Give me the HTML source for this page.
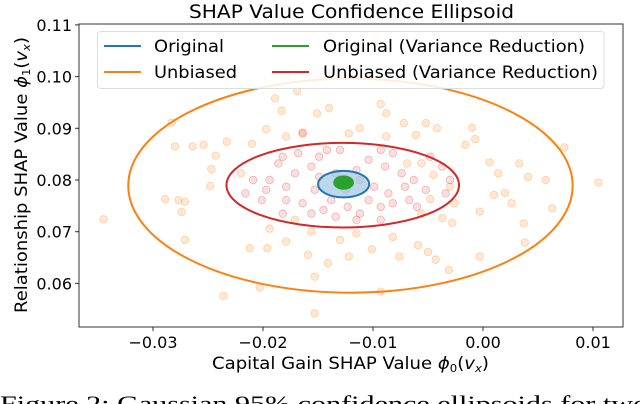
<!DOCTYPE html>
<html><head><meta charset="utf-8"><style>
html,body{margin:0;padding:0;background:#fff;width:640px;height:404px;overflow:hidden}
text{font-family:"DejaVu Sans","Liberation Sans",sans-serif}
</style></head><body>
<svg id="chart" width="640" height="404" viewBox="0 0 640 404" xmlns="http://www.w3.org/2000/svg">
<text x="189" y="18" font-size="19" textLength="325" lengthAdjust="spacingAndGlyphs">SHAP Value Confidence Ellipsoid</text>
<g id="points"></g>
<g id="ellipses"></g>
<rect x="79" y="24" width="544" height="303" fill="none" stroke="#333" stroke-width="1"/>
<g id="xticks"></g>
<g id="yticks"></g>
<text x="212" y="369" font-size="17" textLength="277" lengthAdjust="spacingAndGlyphs">Capital Gain SHAP Value <tspan font-style="italic">ϕ</tspan><tspan font-size="11" dy="3">0</tspan><tspan dy="-3">(</tspan><tspan font-style="italic">v</tspan><tspan font-size="11" font-style="italic" dy="3">x</tspan><tspan dy="-3">)</tspan></text>
<text transform="translate(27,313) rotate(-90)" font-size="17" textLength="276" lengthAdjust="spacingAndGlyphs">Relationship SHAP Value <tspan font-style="italic">ϕ</tspan><tspan font-size="11" dy="3">1</tspan><tspan dy="-3">(</tspan><tspan font-style="italic">v</tspan><tspan font-size="11" font-style="italic" dy="3">x</tspan><tspan dy="-3">)</tspan></text>
<g>
<rect x="97.5" y="31.5" width="506.5" height="57" rx="3" fill="#fff" fill-opacity="0.85" stroke="#ddd"/>
<g><line x1="104" y1="46" x2="141" y2="46" stroke="#1f77b4" stroke-width="2"/><text x="154" y="52" font-size="17" textLength="70" lengthAdjust="spacingAndGlyphs">Original</text></g>
<g><line x1="104" y1="72" x2="141" y2="72" stroke="#ff7f0e" stroke-width="2"/><text x="154" y="78" font-size="17" textLength="83" lengthAdjust="spacingAndGlyphs">Unbiased</text></g>
<g><line x1="272" y1="46" x2="309" y2="46" stroke="#2ca02c" stroke-width="2"/><text x="323" y="52" font-size="17" textLength="262" lengthAdjust="spacingAndGlyphs">Original (Variance Reduction)</text></g>
<g><line x1="272" y1="72" x2="309" y2="72" stroke="#d62728" stroke-width="2"/><text x="323" y="78" font-size="17" textLength="275" lengthAdjust="spacingAndGlyphs">Unbiased (Variance Reduction)</text></g>
</g>
<text x="0" y="411" font-size="22" textLength="648" lengthAdjust="spacingAndGlyphs" style="font-family:'Liberation Serif',serif">Figure 2: Gaussian 95% confidence ellipsoids for two</text>
</svg>
<script>
const xTicks=[-0.03,-0.02,-0.01,0.00,0.01];
const xTickLabels=["−0.03","−0.02","−0.01","0.00","0.01"];
const yTicks=[0.06,0.07,0.08,0.09,0.10,0.11];
const yTickLabels=["0.06","0.07","0.08","0.09","0.10","0.11"];
const orangeX=[-0.0345,-0.0283,-0.028,-0.0264,-0.0254,-0.0289,-0.0277,-0.0271,-0.0274,-0.0271,-0.0236,-0.0203,-0.0212,-0.0196,-0.0194,-0.0179,-0.0153,-0.0153,-0.0159,-0.0141,-0.0122,-0.0093,-0.0101,-0.0076,-0.0059,-0.005,-0.0043,-0.0031,-0.0003,0.0037,0.0038,0.0063,0.0057,0.0074,0.0105,0.0041,0.0033,0.002,0.0006,0.0014,-0.001,-0.0007,-0.0016,-0.0042,-0.0052,-0.0061,-0.0072,-0.0093,-0.0088,-0.0112,-0.0122,-0.014,-0.0151,-0.0183,-0.0189,-0.0169,-0.0197,-0.0233,-0.0243,-0.0247,-0.0248,-0.022,-0.021,-0.0179,-0.0164,-0.0088,-0.0069,-0.0056,-0.0045,-0.003,-0.0026,-0.0048,-0.0037,-0.0028,-0.0056,-0.0082,-0.0115,-0.013,-0.0156,-0.0171,0.001,0.0026,-0.0003,-0.0097,-0.0179];
const orangeY=[0.0724,0.0911,0.0865,0.0865,0.0868,0.0763,0.0761,0.0758,0.0738,0.0684,0.0576,0.0592,0.0668,0.0668,0.0706,0.0681,0.0613,0.0542,0.0655,0.0639,0.0652,0.0584,0.0666,0.0652,0.0674,0.0661,0.0646,0.0626,0.0652,0.0716,0.0679,0.0745,0.08,0.0863,0.0795,0.0806,0.0832,0.0775,0.0834,0.0813,0.0901,0.0879,0.0868,0.09,0.091,0.0887,0.091,0.0947,0.0929,0.09,0.089,0.0939,0.0929,0.0934,0.0958,0.0972,0.0898,0.0874,0.0847,0.0821,0.0788,0.0813,0.087,0.0884,0.0892,0.0884,0.0832,0.0832,0.081,0.0787,0.0755,0.0763,0.0726,0.0717,0.0735,0.069,0.0697,0.0684,0.07,0.0723,0.0771,0.0755,0.0739,0.1077,0.1];
const redX=[-0.0186,-0.0182,-0.0164,-0.0194,-0.0201,-0.0179,-0.0171,-0.0156,-0.0149,-0.0142,-0.013,-0.0153,-0.0145,-0.0134,-0.0123,-0.0112,-0.0104,-0.0093,-0.0082,-0.0071,-0.0063,-0.0052,-0.0037,-0.0048,-0.0082,-0.0093,-0.0104,-0.0089,-0.0112,-0.0115,-0.0164,-0.0179,-0.0197,-0.0209,-0.0216,-0.0168,-0.0138,-0.0125,-0.0099,-0.0086,-0.0067,-0.006,-0.0156,-0.0182,-0.0134,-0.0149,-0.003,-0.0034,-0.0074,-0.0115,-0.0093];
const redY=[0.0832,0.0845,0.089,0.08,0.0761,0.0787,0.0813,0.0826,0.0845,0.0858,0.0858,0.0781,0.0742,0.0729,0.0748,0.0735,0.0761,0.0748,0.0755,0.0787,0.08,0.0781,0.0826,0.0845,0.0852,0.0858,0.0839,0.0826,0.08,0.0819,0.0755,0.0761,0.0781,0.08,0.0774,0.0852,0.0761,0.0781,0.0787,0.0774,0.0761,0.0748,0.0735,0.0735,0.0813,0.0806,0.08,0.0774,0.0813,0.0723,0.0723];
const ellipseNames=["unbiased","unbiased-vr","original","original-vr"];
const ellipseColors=["#ff7f0e","#d62728","#1f77b4","#2ca02c"];
const ellipseCX=[-0.01205,-0.01275,-0.01267,-0.01267];
const ellipseCY=[0.0789,0.0790,0.0792,0.0795];
const ellipseRX=[0.0202,0.01057,0.00232,0.00085];
const ellipseRY=[0.0207,0.00818,0.00257,0.00120];

const NS="http://www.w3.org/2000/svg";
function sx(v){return 483+(v)*11000;}
function sy(v){return 180-(v-0.08)*5170;}
function mk(t,a,p){const e=document.createElementNS(NS,t);for(const k in a)e.setAttribute(k,a[k]);p.appendChild(e);return e;}
const pts=document.getElementById('points');
orangeX.forEach((x,i)=>{
  const c=mk('circle',{cx:sx(x),cy:sy(orangeY[i]),r:3.8,fill:'#ff7f0e','fill-opacity':0.18,stroke:'#ff7f0e','stroke-opacity':0.3,'stroke-width':0.8},pts);
  
  
});
redX.forEach((x,i)=>{
  const c=mk('circle',{cx:sx(x),cy:sy(redY[i]),r:3.8,fill:'#d62728','fill-opacity':0.15,stroke:'#d62728','stroke-opacity':0.3,'stroke-width':0.8},pts);
  
  
});
const eg=document.getElementById('ellipses');
const blueCloud=mk('ellipse',{cx:sx(ellipseCX[2]),cy:sy(ellipseCY[2]),rx:ellipseRX[2]*11000*0.95,ry:ellipseRY[2]*5170*0.95,fill:'#9ec6e0','fill-opacity':0.7},eg);


const greenCloud=mk('ellipse',{cx:sx(ellipseCX[3]),cy:sy(ellipseCY[3]),rx:ellipseRX[3]*11000,ry:ellipseRY[3]*5170,fill:'#2ca02c'},eg);


ellipseNames.forEach((n,i)=>{
  const e=mk('ellipse',{cx:sx(ellipseCX[i]),cy:sy(ellipseCY[i]),rx:ellipseRX[i]*11000,ry:ellipseRY[i]*5170,fill:'none',stroke:ellipseColors[i],'stroke-width':2},eg);
  
  
});
const xg=document.getElementById('xticks');
xTicks.forEach((v,i)=>{
  const x=sx(v);
  mk('line',{x1:x,y1:327,x2:x,y2:331,stroke:'#333'},xg);
  const t=mk('text',{x:x,y:348,'font-size':16,'text-anchor':'middle'},xg);
  t.textContent=xTickLabels[i];
  
  
});
const yg=document.getElementById('yticks');
yTicks.forEach((v,i)=>{
  const y=sy(v);
  mk('line',{x1:75,y1:y,x2:79,y2:y,stroke:'#333'},yg);
  const t=mk('text',{x:72,y:y+6,'font-size':16,'text-anchor':'end'},yg);
  t.textContent=yTickLabels[i];
  
  
});
</script>
</body></html>
